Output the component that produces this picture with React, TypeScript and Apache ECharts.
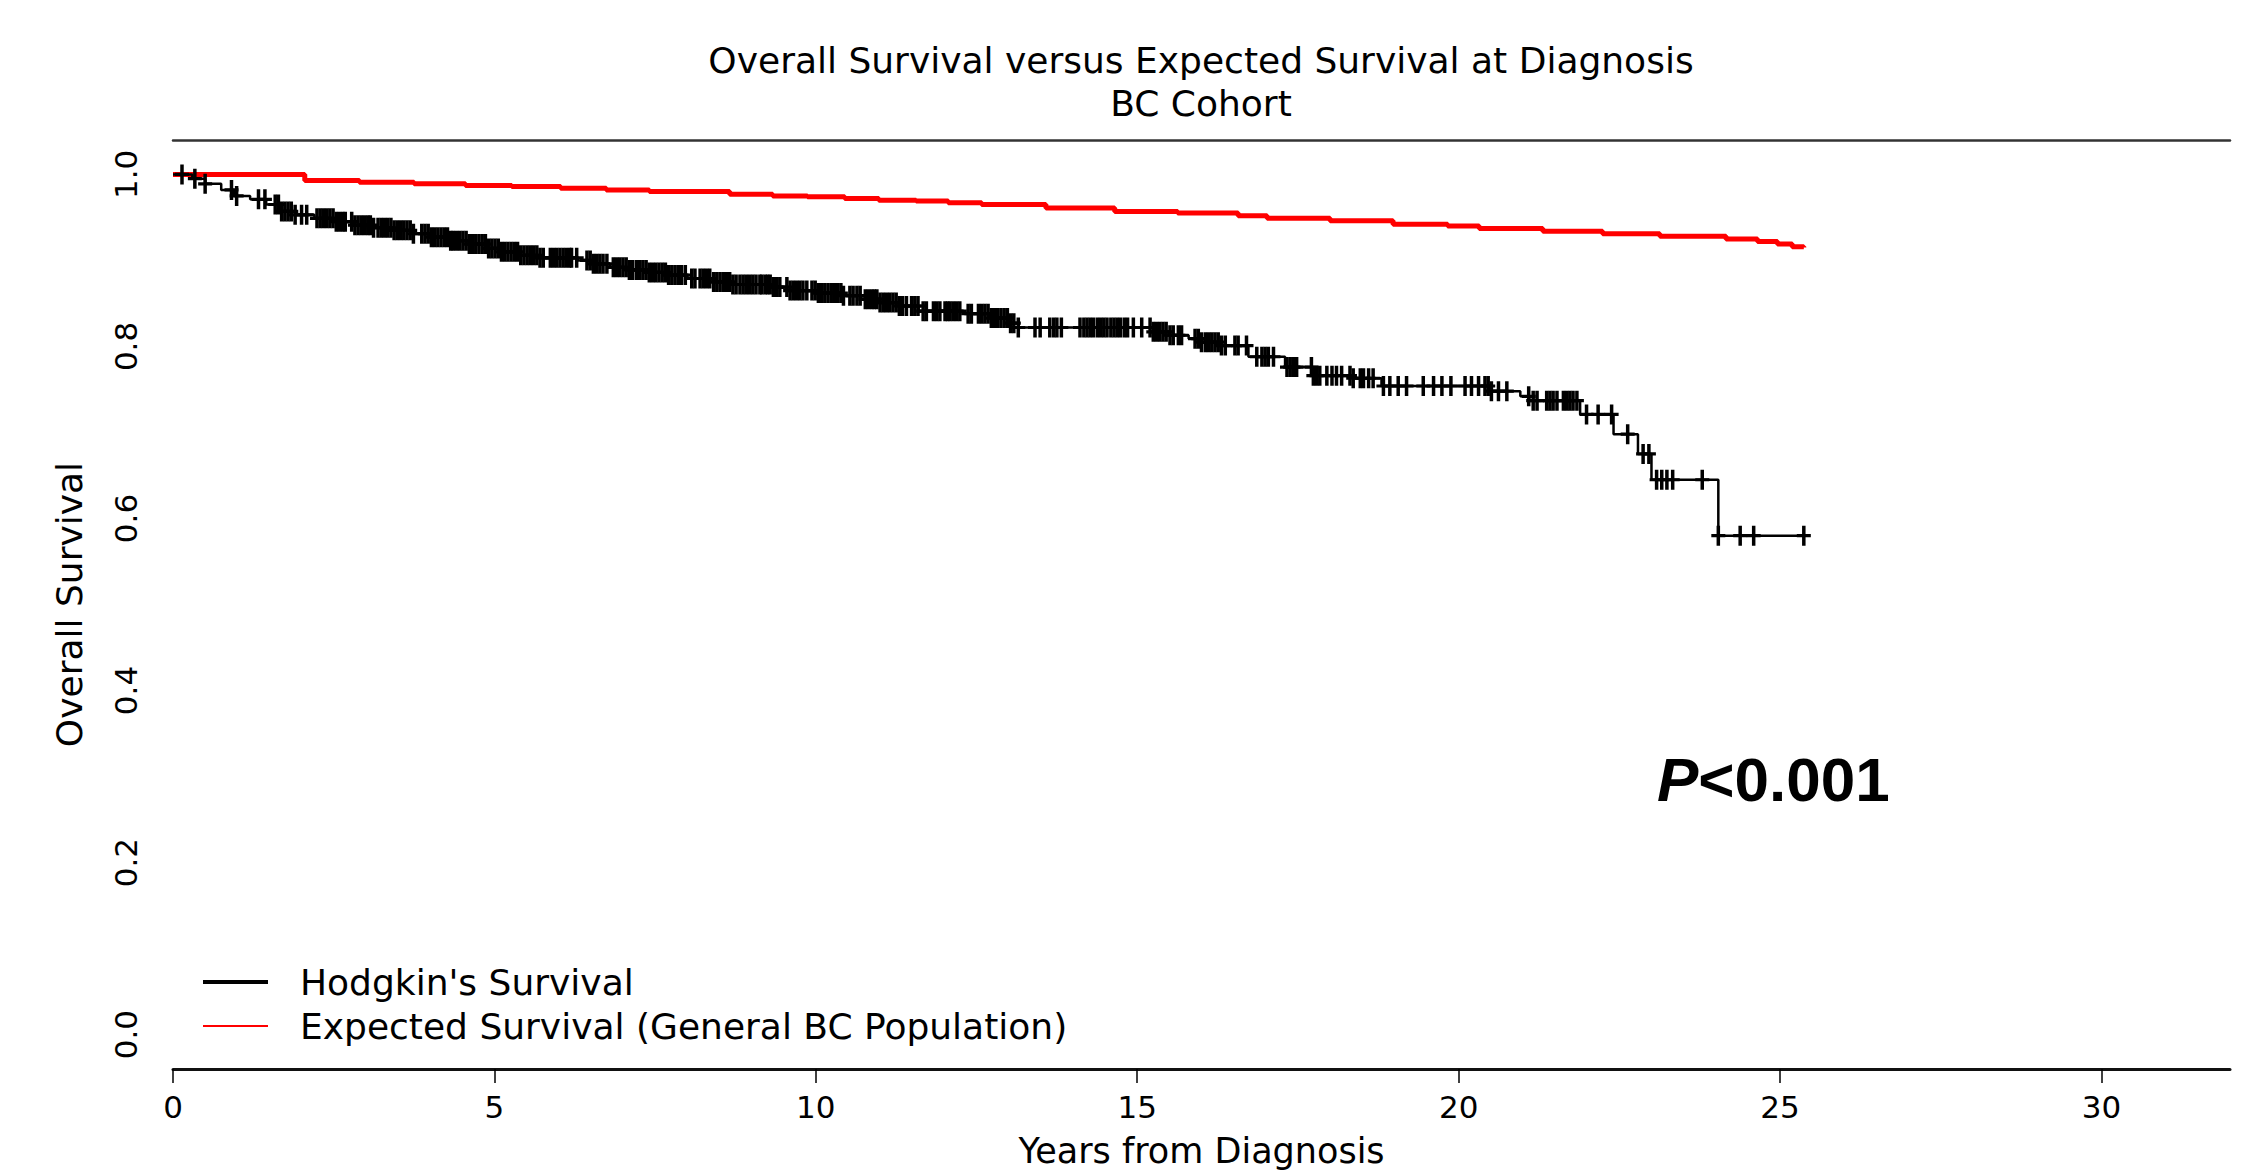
import React, { useEffect, useRef } from "react";
import * as echarts from "echarts";

// ---------- data ----------
const chartTitle = "Overall Survival versus Expected Survival at Diagnosis\nBC Cohort";
const xAxisName = "Years from Diagnosis";
const yAxisName = "Overall Survival";
const hodgkinName = "Hodgkin's Survival";
const expectedName = "Expected Survival (General BC Population)";
const pValueText = "<0.001";

const xTicks = [0, 5, 10, 15, 20, 25, 30];
const yTicks = [0, 0.2, 0.4, 0.6, 0.8, 1.0];

// Kaplan-Meier step times (years) and survival after each step
const kmTimes = [
  0, 0.3, 0.5, 0.75, 0.95, 1.2, 1.45, 1.65, 1.9, 2.2, 2.5, 2.8, 3.1, 3.4, 3.7, 4.0, 4.3, 4.6, 4.9,
  5.1, 5.4, 5.7, 6.3, 6.5, 6.8, 7.1, 7.4, 7.7, 8.0, 8.4, 8.7, 9.3, 9.6, 10.0, 10.4, 10.7, 11.0,
  11.3, 11.6, 12.3, 12.7, 13.0, 13.15, 15.25, 15.5, 15.8, 16.0, 16.3, 16.73, 17.3, 17.74, 18.36,
  18.8, 20.49, 20.96, 21.1, 21.89, 22.41, 22.79, 23.0, 24.04, 25.37,
];
const kmSurv = [
  1.0, 0.995, 0.989, 0.982, 0.975, 0.971, 0.965, 0.957, 0.953, 0.949, 0.945, 0.941, 0.938, 0.935,
  0.931, 0.927, 0.923, 0.919, 0.914, 0.91, 0.906, 0.903, 0.9, 0.896, 0.892, 0.889, 0.886, 0.883,
  0.879, 0.875, 0.872, 0.869, 0.865, 0.862, 0.859, 0.855, 0.851, 0.847, 0.841, 0.838, 0.833, 0.827,
  0.822, 0.817, 0.813, 0.809, 0.805, 0.801, 0.788, 0.776, 0.766, 0.763, 0.754, 0.748, 0.742, 0.737,
  0.721, 0.698, 0.675, 0.645, 0.58, 0.58,
];

// censoring times (years)
const censorTimes = [
  0.14, 0.34, 0.5, 0.91, 0.99, 1.33, 1.43,
  1.59, 1.64, 1.69, 1.74, 1.79, 1.84, 1.9, 2.0, 2.08,
  2.24, 2.29, 2.34, 2.39, 2.44, 2.49, 2.54, 2.59, 2.64, 2.68,
  2.78, 2.83, 2.88, 2.93, 2.98, 3.03, 3.07, 3.12,
  3.19, 3.24, 3.29, 3.34, 3.39, 3.44, 3.49, 3.54, 3.59, 3.64, 3.69, 3.74,
  3.87, 3.92, 3.97, 4.02, 4.07, 4.12, 4.17, 4.22, 4.27, 4.32, 4.36,
  4.41, 4.46, 4.51, 4.56, 4.61, 4.66, 4.71, 4.76, 4.81, 4.86, 4.91, 4.96, 5.01, 5.06, 5.11, 5.16,
  5.21, 5.26, 5.31, 5.36, 5.41, 5.46, 5.51, 5.56, 5.61, 5.66, 5.71, 5.76,
  5.87, 5.92, 5.97, 6.02, 6.07, 6.12, 6.17, 6.2,
  6.28, 6.44, 6.49, 6.54, 6.59, 6.64, 6.69, 6.75,
  6.85, 6.9, 6.95, 7.0, 7.05, 7.1, 7.15, 7.21,
  7.26, 7.31, 7.36, 7.41, 7.46, 7.51, 7.56, 7.61, 7.66, 7.71, 7.76, 7.81, 7.86, 7.91, 7.97,
  8.07, 8.12, 8.2, 8.25, 8.3, 8.35, 8.41,
  8.46, 8.51, 8.56, 8.61, 8.66, 8.71, 8.76, 8.82,
  8.87, 8.92, 8.97, 9.02, 9.07, 9.13, 9.16, 9.21, 9.25, 9.29,
  9.34, 9.39, 9.44, 9.55, 9.6, 9.65, 9.7, 9.75, 9.8, 9.86,
  9.94, 9.99, 10.04, 10.09, 10.14, 10.19, 10.24, 10.29, 10.34, 10.39, 10.43,
  10.53, 10.58, 10.64, 10.69, 10.77, 10.82, 10.87, 10.91, 10.95,
  11.0, 11.05, 11.1, 11.15, 11.2, 11.25, 11.3, 11.35, 11.41,
  11.49, 11.54, 11.59, 11.67, 11.72, 11.83, 11.88, 11.93, 12.01, 12.05, 12.09, 12.14, 12.19, 12.24,
  12.37, 12.42,
  12.53, 12.58, 12.63, 12.68, 12.73, 12.78, 12.83, 12.88, 12.93, 12.98, 13.03, 13.08, 13.15,
  13.41, 13.49, 13.64, 13.7, 13.75, 13.82,
  14.11, 14.17, 14.22, 14.27, 14.32, 14.38, 14.43, 14.48, 14.53, 14.59, 14.64, 14.69, 14.74, 14.8,
  14.85, 14.94,
  15.07, 15.2, 15.25, 15.3, 15.35, 15.4, 15.45, 15.51,
  15.56, 15.64, 15.69, 15.9, 15.95, 16.0, 16.06, 16.11,
  16.16, 16.21, 16.26, 16.31, 16.37, 16.52, 16.57, 16.7,
  16.86, 16.94, 16.99, 17.04, 17.12,
  17.33, 17.38, 17.43, 17.48, 17.71, 17.74,
  17.79, 17.84, 17.95, 18.03, 18.1, 18.18, 18.31, 18.36, 18.47, 18.52, 18.6, 18.67,
  18.83, 18.93, 19.06, 19.19, 19.45, 19.61, 19.74, 19.88,
  20.1, 20.2, 20.31, 20.41, 20.46,
  20.51, 20.62, 20.75,
  21.09, 21.16, 21.22, 21.37, 21.42, 21.47, 21.53, 21.63, 21.68, 21.73, 21.78, 21.84,
  21.99, 22.17, 22.38, 22.63,
  22.87, 22.96, 23.08, 23.16, 23.24, 23.33, 23.79,
  24.04, 24.38, 24.59, 25.37,
];

// expected survival (general population) step times and values
const expTimes = [
  0, 2.05, 2.9, 3.75, 4.55, 5.27, 6.03, 6.74, 7.41, 8.66, 9.33, 9.87, 10.45, 10.98, 11.56, 12.06,
  12.58, 13.58, 14.65, 15.63, 16.57, 17.02, 18.0, 18.98, 19.83, 20.32, 21.31, 22.24, 23.13, 24.16,
  24.65, 24.96, 25.19, 25.37,
];
const expSurv = [
  1.0, 0.993, 0.991, 0.989, 0.987, 0.986, 0.984, 0.982, 0.98, 0.977, 0.975, 0.974, 0.972, 0.97,
  0.969, 0.967, 0.965, 0.961, 0.957, 0.955, 0.952, 0.949, 0.946, 0.942, 0.94, 0.937, 0.934, 0.931,
  0.928, 0.925, 0.922, 0.919, 0.916, 0.915,
];

// ---------- helpers ----------
const survAt = (t: number) => {
  let s = kmSurv[0];
  for (let i = 0; i < kmTimes.length; i++) {
    if (kmTimes[i] <= t) s = kmSurv[i];
    else break;
  }
  return s;
};

const FONT = "DejaVu Sans";
const PLUS =
  "path://M-0.25,-1H0.25V-0.16H1V0.16H0.25V1H-0.25V0.16H-1V-0.16H-0.25Z";
const LEGEND_THICK = "path://M0,0H65V4H0Z";
const LEGEND_THIN = "path://M0,0H65V0.02H0Z M0,1H65V3H0Z M0,3.98H65V4H0Z";

export default function App() {
  const ref = useRef<HTMLDivElement>(null);

  useEffect(() => {
    if (!ref.current) return;
    const chart = echarts.init(ref.current, undefined, { renderer: "svg" });

    const kmData = kmTimes.map((t, i) => [t, kmSurv[i]]);
    const expData = expTimes.map((t, i) => [t, expSurv[i]]);
    const censorData = censorTimes.map((t) => [t, survAt(t)]);

    const option: any = {
      animation: false,
      backgroundColor: "#ffffff",
      title: {
        text: chartTitle,
        left: 1201,
        top: 39,
        textAlign: "center",
        padding: 0,
        textStyle: {
          fontFamily: FONT,
          fontSize: 36,
          fontWeight: "normal",
          color: "#000",
          lineHeight: 43,
        },
      },
      grid: { left: 173, right: 29, top: 140, bottom: 105, outerBoundsMode: "none", containLabel: false },
      legend: {
        orient: "vertical",
        left: 203,
        top: 962,
        itemWidth: 65,
        itemHeight: 4,
        itemGap: 4,
        padding: 0,
        selectedMode: false,
        textStyle: {
          fontFamily: FONT,
          fontSize: 36,
          color: "#000",
          lineHeight: 40,
          padding: [0, 0, 0, 27],
        },
        data: [
          { name: hodgkinName, icon: LEGEND_THICK, itemStyle: { color: "#000" } },
          { name: expectedName, icon: LEGEND_THIN, itemStyle: { color: "#ff0000" } },
        ],
      },
      xAxis: [
        {
          type: "value",
          min: 0,
          max: 32,
          interval: 5,
          position: "bottom",
          axisLine: { show: true, onZero: false, lineStyle: { color: "#111", width: 3 } },
          axisTick: {
            show: true,
            customValues: xTicks,
            length: 14,
            lineStyle: { color: "#000", width: 1.5 },
          },
          axisLabel: {
            customValues: xTicks,
            margin: 22,
            fontFamily: FONT,
            fontSize: 31,
            color: "#000",
            formatter: (v: number) => String(v),
          },
          splitLine: { show: false },
          name: xAxisName,
          nameLocation: "middle",
          nameGap: 62,
          nameTextStyle: { fontFamily: FONT, fontSize: 35, color: "#000", lineHeight: 40 },
        },
        {
          type: "value",
          min: 0,
          max: 32,
          position: "top",
          axisLine: { show: true, onZero: false, lineStyle: { color: "#333", width: 2.5 } },
          axisTick: { show: false },
          axisLabel: { show: false },
          splitLine: { show: false },
        },
      ],
      yAxis: {
        type: "value",
        min: -0.04,
        max: 1.04,
        axisLine: { show: false },
        axisTick: { show: false },
        splitLine: { show: false },
        axisLabel: {
          customValues: yTicks,
          rotate: 90,
          margin: 32,
          fontFamily: FONT,
          fontSize: 31,
          color: "#000",
          formatter: (v: number) => v.toFixed(1),
        },
        name: yAxisName,
        nameLocation: "middle",
        nameRotate: 90,
        nameGap: 86,
        nameTextStyle: { fontFamily: FONT, fontSize: 36, color: "#000" },
      },
      series: [
        {
          name: expectedName,
          type: "line",
          step: "end",
          data: expData,
          symbol: "none",
          showSymbol: false,
          lineStyle: { color: "#ff0000", width: 5 },
          itemStyle: { color: "#ff0000" },
          silent: true,
          z: 2,
        },
        {
          name: hodgkinName,
          type: "line",
          step: "end",
          data: kmData,
          symbol: "none",
          showSymbol: false,
          lineStyle: { color: "#000", width: 2.5 },
          itemStyle: { color: "#000" },
          silent: true,
          z: 3,
        },
        {
          name: "Censored",
          type: "scatter",
          data: censorData,
          symbol: PLUS,
          symbolSize: [14, 20],
          itemStyle: { color: "#000", opacity: 1 },
          silent: true,
          z: 4,
        },
      ],
      graphic: [
        {
          type: "text",
          x: 1657,
          y: 779,
          style: {
            text: "{p|P}{n|" + pValueText + "}",
            verticalAlign: "middle",
            rich: {
              p: {
                fontFamily: "Liberation Sans",
                fontSize: 62,
                fontWeight: "bold",
                fontStyle: "italic",
                fill: "#000",
              },
              n: {
                fontFamily: "Liberation Sans",
                fontSize: 62,
                fontWeight: "bold",
                fill: "#000",
              },
            },
          },
        },
      ],
    };

    chart.setOption(option);
    return () => chart.dispose();
  }, []);

  return (
    <div
      ref={ref}
      style={{ position: "absolute", left: 0, top: 0, width: 2259, height: 1174, background: "#fff" }}
    />
  );
}
